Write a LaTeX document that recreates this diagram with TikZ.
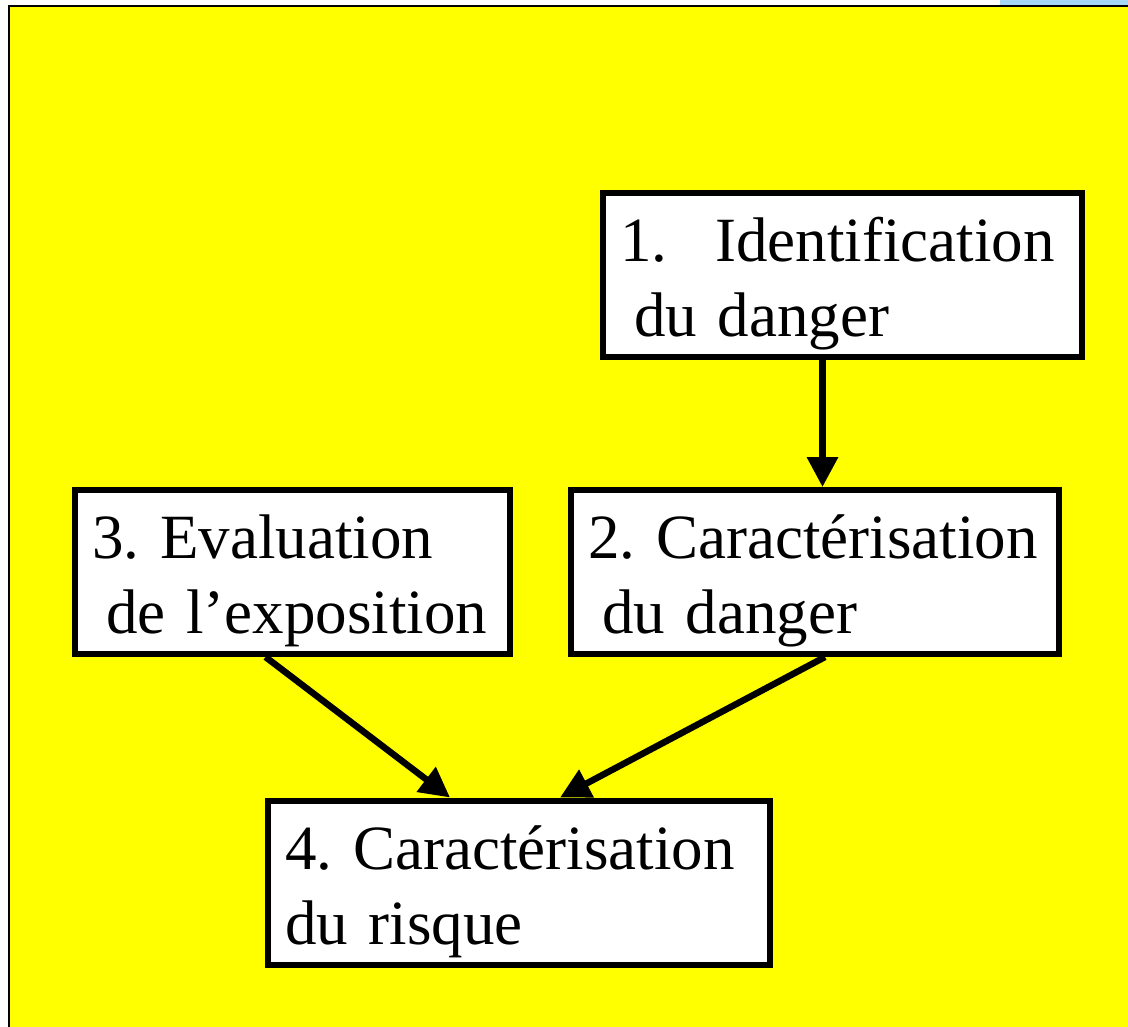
\documentclass[tikz,border=0pt]{standalone}
\usepackage{fontspec}
\setmainfont{Liberation Serif}
\usetikzlibrary{arrows.meta}
\definecolor{bgyellow}{RGB}{255,255,0}
\definecolor{tablue}{RGB}{165,215,245}

\tikzset{
  stepbox/.style={draw, fill=white, line width=6pt, rectangle, align=left,
    inner xsep=17pt, inner ysep=0pt, minimum height=164pt,
    font=\fontsize{63}{75}\selectfont\frenchspacing},
}
\newcommand{\topstrut}{\rule{0pt}{62pt}}

\begin{document}
\begin{tikzpicture}[x=1pt, y=-1pt, >={Triangle[length=30pt,width=30pt]}]
  \useasboundingbox (0,0) rectangle (1128,1027);
  \fill[white] (0,0) rectangle (1128,1027);
  \fill[tablue] (1000,0) rectangle (1128,6);
  \draw[fill=bgyellow, line width=2pt] (9,6) rectangle (1140,1040);

  \node[stepbox, text width=445pt] (ident) at (842.5,275) {\topstrut\mbox{1.\hspace{48pt}Identification}\\\mbox{\hspace{14pt}du danger}};
  \node[stepbox, text width=454pt] (carac) at (815,572) {\topstrut\mbox{2. Caractérisation}\\\mbox{\hspace{14pt}du danger}};
  \node[stepbox, text width=401pt] (expo) at (292.5,572) {\topstrut\mbox{3. Evaluation}\\\mbox{\hspace{14pt}de l’exposition}};
  \node[stepbox, text width=468pt] (risque) at (519,882.5) {\topstrut\mbox{4. Caractérisation}\\\mbox{du risque}};

  \draw[->, line width=6.5pt] ([xshift=-20pt]ident.south) -- ([xshift=-20pt]ident.south |- carac.north);
  \draw[->, line width=6.5pt] ([xshift=-27pt]expo.south) -- ([xshift=-69pt]risque.north);
  \draw[->, line width=6.5pt] ([xshift=10pt]carac.south) -- ([xshift=41pt]risque.north);
\end{tikzpicture}
\end{document}
